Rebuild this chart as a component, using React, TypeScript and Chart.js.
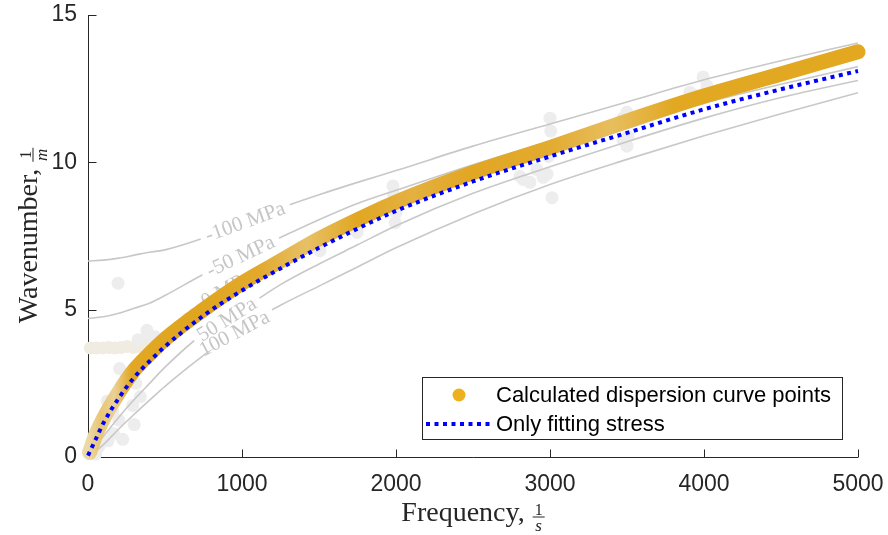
import React, { useEffect, useRef } from "react";
import { Chart, registerables } from "chart.js";

Chart.register(...registerables);

// ---- data ----
const xTicks = [0, 1000, 2000, 3000, 4000, 5000];
const yTicks = [0, 5, 10, 15];

const stressFreq = [0, 100, 200, 300, 400, 500, 750, 1000, 1250, 1500, 1750, 2000, 2500, 3000, 3500, 4000, 4500, 5000];
const stressM100 = [6.65, 6.68, 6.75, 6.85, 6.95, 7.03, 7.43, 7.95, 8.45, 8.9, 9.32, 9.72, 10.55, 11.3, 12.05, 12.8, 13.45, 14.05];
const stressM50 = [4.7, 4.76, 4.88, 5.05, 5.22, 5.48, 6.2, 6.85, 7.45, 8.05, 8.6, 9.05, 9.92, 10.72, 11.52, 12.3, 13.03, 13.72];
const stress0 = [0, 1.55, 2.45, 3.15, 3.7, 4.2, 5.2, 6.05, 6.7, 7.3, 7.92, 8.5, 9.45, 10.3, 11.15, 12.0, 12.65, 13.25];
const stress50 = [0, 0.7, 1.35, 1.95, 2.5, 3.05, 4.2, 5.0, 5.85, 6.55, 7.2, 7.85, 8.95, 9.85, 10.7, 11.5, 12.2, 12.78];
const stress100 = [0, 0.42, 0.95, 1.45, 1.93, 2.4, 3.45, 4.4, 5.15, 5.8, 6.45, 7.1, 8.25, 9.25, 10.1, 10.9, 11.65, 12.36];
const stressLabels = ["-100 MPa", "-50 MPa", "0 MPa", "50 MPa", "100 MPa"];
const stressLabelFreq = [1020, 990, 900, 900, 950];

const goldFreq = [10, 50, 100, 200, 300, 400, 500, 750, 1000, 1250, 1500, 1750, 2000, 2500, 3000, 3500, 4000, 4500, 5000];
const goldK = [0.15, 0.75, 1.3, 2.2, 2.95, 3.5, 4.0, 5.0, 5.9, 6.65, 7.4, 8.05, 8.65, 9.65, 10.5, 11.4, 12.25, 13.0, 13.75];

const blueFreq = [0, 50, 100, 200, 300, 400, 500, 750, 1000, 1250, 1500, 1750, 2000, 2500, 3000, 3500, 4000, 4500, 5000];
const blueK = [0.05, 0.6, 1.15, 2.0, 2.7, 3.25, 3.75, 4.8, 5.65, 6.4, 7.1, 7.75, 8.35, 9.35, 10.2, 11.0, 11.8, 12.48, 13.1];

const greyF = [25, 50, 40, 70, 130, 165, 225, 200, 160, 125, 185, 300, 290, 340, 310, 250, 205, 195, 325, 383, 390, 435,
  1460, 1506, 1747, 1750, 1980, 1985, 1990, 2000, 1995,
  2805, 2825, 2870, 2915, 2955, 2981, 3000, 3005, 3013, 2990, 3474, 3500, 3506, 3474, 3500, 3909, 3955, 3994, 4019];
const greyK = [0.25, 0.1, 0.6, 0.35, 0.55, 0.8, 0.6, 1.25, 1.55, 1.9, 2.1, 1.1, 1.75, 2.05, 2.5, 2.8, 3.0, 5.9, 3.98, 4.3, 4.15, 4.08,
  7.14, 7.0, 7.62, 8.0, 9.2, 8.9, 8.6, 8.3, 7.95,
  9.52, 9.42, 9.32, 9.76, 9.49, 9.6, 11.5, 11.06, 8.8, 10.2, 11.5, 11.7, 10.88, 10.75, 10.55, 12.38, 12.25, 12.9, 12.6];

const beigeF = [15, 55, 95, 135, 175, 215, 255, 295, 335, 375, 415, 455, 500, 560, 610, 650, 690];
const beigeK = [3.7, 3.7, 3.7, 3.72, 3.7, 3.72, 3.75, 3.72, 3.75, 3.8, 3.78, 3.85, 3.9, 4.2, 4.45, 4.7, 4.85];

const legendLabels = ["Calculated dispersion curve points", "Only fitting stress"];

// ---- helpers ----
const toXY = (xs: number[], ys: number[]) => xs.map((x, i) => ({ x, y: ys[i] }));
const interp = (xs: number[], ys: number[], x: number) => {
  for (let i = 1; i < xs.length; i++) {
    if (x <= xs[i]) {
      const t = (x - xs[i - 1]) / (xs[i] - xs[i - 1]);
      return ys[i - 1] + t * (ys[i] - ys[i - 1]);
    }
  }
  return ys[ys.length - 1];
};

const SANS = '"Liberation Sans", Arial, Helvetica, sans-serif';
const SERIF = '"Liberation Serif", "Times New Roman", serif';
const AXIS = "#262626";
const GOLD = "#EDB120";
const goldShade: [number, string][] = [
  [0, "#ECD9A8"], [80, "#E8C674"], [170, "#EBD197"], [280, "#E2A825"], [700, "#E0A51E"],
  [1100, "#E2A92C"], [1420, "#E7C066"], [1750, "#E1A722"], [2100, "#E4B040"], [2500, "#E1A622"],
  [3000, "#E3AB30"], [3400, "#E7BE5E"], [3800, "#E2A823"], [5000, "#E3A820"],
];
const stressSeries = [stressM100, stressM50, stress0, stress50, stress100];
const stressAngles = [20, 25, 30, 32, 28];

const zeroPad = (s: any) => {
  s.paddingTop = 0;
  s.paddingBottom = 0;
  s.paddingLeft = 0;
  s.paddingRight = 0;
};

export default function App() {
  const ref = useRef<HTMLCanvasElement>(null);

  useEffect(() => {
    const canvas = ref.current!;

    const goldColor = (c: any) => {
      const chart = c.chart;
      const xs = chart.scales?.x;
      if (!chart.chartArea || !xs) return GOLD;
      const x0 = xs.getPixelForValue(0);
      const x1 = xs.getPixelForValue(5000);
      const g = chart.ctx.createLinearGradient(x0, 0, x1, 0);
      goldShade.forEach(([f, col]) => g.addColorStop(f / 5000, col));
      return g;
    };

    const decor = {
      id: "decor",
      beforeDatasetsDraw(chart: any) {
        const { ctx, chartArea: a, scales } = chart;
        ctx.save();
        ctx.strokeStyle = AXIS;
        ctx.lineWidth = 1;
        ctx.beginPath();
        const L = Math.round(a.left) + 0.5;
        const B = Math.round(a.bottom) + 0.5;
        ctx.moveTo(L, Math.round(a.top));
        ctx.lineTo(L, B);
        ctx.lineTo(Math.round(a.right), B);
        xTicks.forEach((v) => {
          const x = Math.round(scales.x.getPixelForValue(v)) + 0.5;
          ctx.moveTo(x, B);
          ctx.lineTo(x, B - 8);
        });
        yTicks.forEach((v) => {
          const y = Math.round(scales.y.getPixelForValue(v)) + 0.5;
          ctx.moveTo(L, y);
          ctx.lineTo(L + 8, y);
        });
        ctx.stroke();
        ctx.restore();
      },
      beforeDatasetDraw(chart: any, args: any) {
        if (args.index !== 1) return;
        const { ctx, scales } = chart;
        ctx.save();
        ctx.font = `21px ${SERIF}`;
        ctx.textAlign = "center";
        ctx.textBaseline = "middle";
        stressLabels.forEach((lab, i) => {
          const f = stressLabelFreq[i];
          const x = scales.x.getPixelForValue(f);
          const y = scales.y.getPixelForValue(interp(stressFreq, stressSeries[i], f));
          const w = ctx.measureText(lab).width;
          ctx.save();
          ctx.translate(x, y);
          ctx.rotate((-stressAngles[i] * Math.PI) / 180);
          ctx.fillStyle = "#FFFFFF";
          ctx.fillRect(-w / 2 - 6, -4, w + 12, 8);
          ctx.fillStyle = "#C6C6C6";
          ctx.fillText(lab, 0, 1);
          ctx.restore();
        });
        ctx.restore();
      },
      afterDraw(chart: any) {
        const { ctx, chartArea: a } = chart;
        ctx.save();
        // x title
        ctx.fillStyle = AXIS;
        ctx.font = `28px ${SERIF}`;
        ctx.textBaseline = "alphabetic";
        ctx.textAlign = "left";
        const xt = "Frequency,";
        const xw = ctx.measureText(xt).width;
        const fracW = 12;
        const cx = (a.left + a.right) / 2;
        const xs = cx - (xw + 8 + fracW) / 2;
        const xb = 521;
        ctx.fillText(xt, xs, xb);
        const fx = xs + xw + 8 + fracW / 2;
        ctx.textAlign = "center";
        ctx.font = `16px ${SERIF}`;
        ctx.fillText("1", fx, xb - 6);
        ctx.font = `italic 17px ${SERIF}`;
        ctx.fillText("s", fx, xb + 10);
        ctx.fillRect(fx - fracW / 2, xb - 4.5, fracW, 1);

        // y title
        ctx.save();
        const cy = (a.top + a.bottom) / 2;
        ctx.translate(37, cy);
        ctx.rotate(-Math.PI / 2);
        ctx.font = `28px ${SERIF}`;
        ctx.textAlign = "left";
        const yt = "Wavenumber,";
        const yw = ctx.measureText(yt).width;
        const ys = -(yw + 8 + fracW) / 2;
        ctx.fillText(yt, ys, 0);
        const fy = ys + yw + 8 + fracW / 2;
        ctx.textAlign = "center";
        ctx.font = `16px ${SERIF}`;
        ctx.fillText("1", fy, -6);
        ctx.font = `italic 17px ${SERIF}`;
        ctx.fillText("m", fy, 10);
        ctx.fillRect(fy - fracW / 2 - 1, -4.5, fracW + 2, 1);
        ctx.restore();

        // legend
        const lx = 422, ly = 377, lw = 420, lh = 62;
        ctx.fillStyle = "#FFFFFF";
        ctx.fillRect(lx, ly, lw, lh);
        ctx.strokeStyle = AXIS;
        ctx.lineWidth = 1;
        ctx.strokeRect(lx + 0.5, ly + 0.5, lw, lh);
        ctx.fillStyle = GOLD;
        ctx.beginPath();
        ctx.arc(459, 395, 6.5, 0, Math.PI * 2);
        ctx.fill();
        ctx.strokeStyle = "#0000FF";
        ctx.lineWidth = 4;
        ctx.setLineDash([4, 4.5]);
        ctx.beginPath();
        ctx.moveTo(426, 424);
        ctx.lineTo(491, 424);
        ctx.stroke();
        ctx.setLineDash([]);
        ctx.fillStyle = "#000000";
        ctx.font = `22px ${SANS}`;
        ctx.textAlign = "left";
        ctx.textBaseline = "middle";
        ctx.fillText(legendLabels[0], 496, 396);
        ctx.fillText(legendLabels[1], 496, 425);
        ctx.restore();
      },
    };

    const datasets: any[] = [
      {
        type: "line", label: legendLabels[1], data: toXY(blueFreq, blueK),
        borderColor: "#0000FF", borderWidth: 4, borderDash: [4, 4.5], borderCapStyle: "butt",
        pointRadius: 0, fill: false, cubicInterpolationMode: "monotone", order: 1, clip: false,
      },
      {
        type: "line", label: legendLabels[0], data: toXY(goldFreq, goldK),
        borderColor: goldColor, borderWidth: 15, borderCapStyle: "round", borderJoinStyle: "round",
        pointRadius: 0, fill: false, cubicInterpolationMode: "monotone", order: 2, clip: false,
      },
      ...stressSeries.map((s, i) => ({
        type: "line", label: stressLabels[i], data: toXY(stressFreq, s),
        borderColor: "#C8C8C8", borderWidth: 1.6, pointRadius: 0, fill: false,
        cubicInterpolationMode: "monotone", order: 3,
      })),
      {
        type: "scatter", label: "grey", data: toXY(greyF, greyK),
        backgroundColor: "#EDEDED", borderWidth: 0, pointRadius: 6.5, order: 4, clip: false,
      },
      {
        type: "scatter", label: "beige", data: toXY(beigeF, beigeK),
        backgroundColor: "#F0ECE1", borderWidth: 0, pointRadius: 6.5, order: 5, clip: false,
      },
    ];

    const chart = new Chart(canvas, {
      type: "line",
      data: { datasets },
      options: {
        responsive: false,
        animation: false,
        events: [],
        layout: { autoPadding: false, padding: { top: 15, right: 30, left: 0, bottom: 0 } },
        plugins: { legend: { display: false }, tooltip: { enabled: false } },
        scales: {
          x: {
            type: "linear", min: 0, max: 5000,
            grid: { display: false, drawTicks: false },
            border: { display: false },
            afterBuildTicks: (s: any) => { s.ticks = xTicks.map((v) => ({ value: v })); },
            afterFit: (s: any) => { s.height = 78; zeroPad(s); },
            ticks: {
              padding: 14, color: AXIS, font: { family: SANS, size: 23 },
              callback: (v: any) => String(v), maxRotation: 0, autoSkip: false,
            },
          },
          y: {
            type: "linear", min: 0, max: 15,
            grid: { display: false, drawTicks: false },
            border: { display: false },
            afterBuildTicks: (s: any) => { s.ticks = yTicks.map((v) => ({ value: v })); },
            afterFit: (s: any) => { s.width = 88; zeroPad(s); },
            ticks: {
              padding: 11, color: AXIS, font: { family: SANS, size: 23 },
              callback: (v: any) => String(v), autoSkip: false,
            },
          },
        },
      } as any,
      plugins: [decor],
    });
    return () => chart.destroy();
  }, []);

  return (
    <div style={{ position: "fixed", left: 0, top: 0, width: 888, height: 535, background: "#fff" }}>
      <canvas ref={ref} width={888} height={535} style={{ display: "block" }} />
    </div>
  );
}
